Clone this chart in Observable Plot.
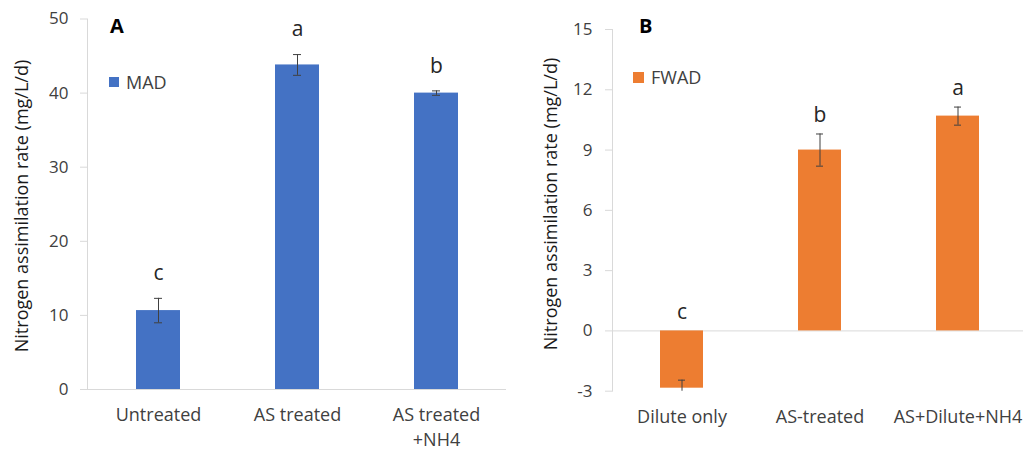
<!DOCTYPE html>
<html>
<head>
<meta charset="utf-8">
<script src="https://cdn.jsdelivr.net/npm/d3@7"></script>
<script src="https://cdn.jsdelivr.net/npm/@observablehq/plot@0.6"></script>
<style>
  html, body { margin: 0; padding: 0; background: white; }
  #wrap { position: relative; width: 1023px; height: 451px; overflow: hidden; font-family: "Open Sans", sans-serif; }
  #wrap svg { position: absolute; top: 0; }
  .ylab { position: absolute; white-space: nowrap; font-size: 18px; color: #1a1a1a; transform: translate(-50%, -50%) rotate(-90deg); }
  .panel { position: absolute; font-size: 20px; font-weight: bold; color: #000; line-height: 1; }
  .leg { position: absolute; font-size: 18px; color: #404040; line-height: 1; display: flex; align-items: center; }
  .leg span.sw { display: inline-block; margin-right: 7px; }
</style>
</head>
<body>
<div id="wrap"></div>
<script>
// ---- Data ----
const categoriesA = ["Untreated", "AS treated", "AS treated +NH4"];
const valuesA = [10.65, 43.8, 40.0];
const errorsA = [1.65, 1.4, 0.3];
const lettersA = ["c", "a", "b"];
const ticksA = [0, 10, 20, 30, 40, 50];

const categoriesB = ["Dilute only", "AS-treated", "AS+Dilute+NH4"];
const valuesB = [-2.85, 9.0, 10.69];
const errorsB = [0.4, 0.8, 0.45];
const lettersB = ["c", "b", "a"];
const ticksB = [-3, 0, 3, 6, 9, 12, 15];

const yTitle = "Nitrogen assimilation rate (mg/L/d)";

const dataA = categoriesA.map((c, i) => ({cat: c, v: valuesA[i], e: errorsA[i], l: lettersA[i]}));
const dataB = categoriesB.map((c, i) => ({cat: c, v: valuesB[i], e: errorsB[i], l: lettersB[i]}));

function panel({data, cats, ticks, domain, color, width, marginLeft, marginRight, marginTop, marginBottom, tickPadding, letterDy, fmt}) {
  return Plot.plot({
    width, height: 451, marginLeft, marginRight, marginTop, marginBottom,
    style: {fontFamily: "Open Sans, sans-serif", background: "white", overflow: "visible"},
    x: {domain: cats, paddingInner: 0.685, paddingOuter: 0.3425, axis: null},
    y: {domain, axis: null},
    marks: [
      Plot.frame({anchor: "left", stroke: "#d9d9d9"}),
      Plot.ruleY([0], {stroke: "#d9d9d9"}),
      Plot.barY(data, {x: "cat", y: "v", fill: color}),
      Plot.ruleX(data, {x: "cat", y1: d => d.v - d.e, y2: d => d.v + d.e, stroke: "#404040", clip: true}),
      Plot.tickY(data, {x: "cat", y: d => d.v + d.e, insetLeft: 18, insetRight: 18, stroke: "#404040", clip: true}),
      Plot.tickY(data, {x: "cat", y: d => d.v - d.e, insetLeft: 18, insetRight: 18, stroke: "#404040", clip: true}),
      Plot.text(data, {x: "cat", y: d => Math.max(0, d.v + d.e), text: "l", dy: letterDy, fontSize: 21, fill: "#262626"}),
      Plot.axisY({ticks, tickSize: 7, tickPadding, stroke: "#d9d9d9", fill: "#404040", fontSize: 17, label: null, tickFormat: d => String(d)}),
      Plot.axisX({tickSize: 0, tickPadding: 14, fontSize: 18, fill: "#404040", label: null, tickFormat: fmt, lineHeight: 1.38})
    ]
  });
}

const wrap = document.getElementById("wrap");

const svgA = panel({
  data: dataA, cats: categoriesA, ticks: ticksA, domain: [0, 50], color: "#4472C4",
  width: 520, marginLeft: 87, marginRight: 14, marginTop: 18.5, marginBottom: 62,
  tickPadding: 12, letterDy: -25, fmt: d => d.replace(" +", "\n+")
});
svgA.style.left = "0px";
wrap.appendChild(svgA);

const svgB = panel({
  data: dataB, cats: categoriesB, ticks: ticksB, domain: [-3, 15], color: "#ED7D31",
  width: 508, marginLeft: 92, marginRight: 1, marginTop: 29, marginBottom: 60.3,
  tickPadding: 13, letterDy: -19, fmt: d => d
});
svgB.style.left = "520px";
wrap.appendChild(svgB);

function addDiv(cls, html, left, top) {
  const d = document.createElement("div");
  d.className = cls;
  d.innerHTML = html;
  d.style.left = left + "px";
  d.style.top = top + "px";
  wrap.appendChild(d);
  return d;
}
addDiv("ylab", yTitle, 21, 206);
addDiv("ylab", yTitle, 550, 204);
addDiv("panel", "A", 110, 16);
addDiv("panel", "B", 639, 16);
addDiv("leg", '<span class="sw" style="width:10px;height:10px;background:#4472C4"></span>MAD', 109, 73);
addDiv("leg", '<span class="sw" style="width:11px;height:11px;background:#ED7D31"></span>FWAD', 633, 68);
</script>
</body>
</html>
